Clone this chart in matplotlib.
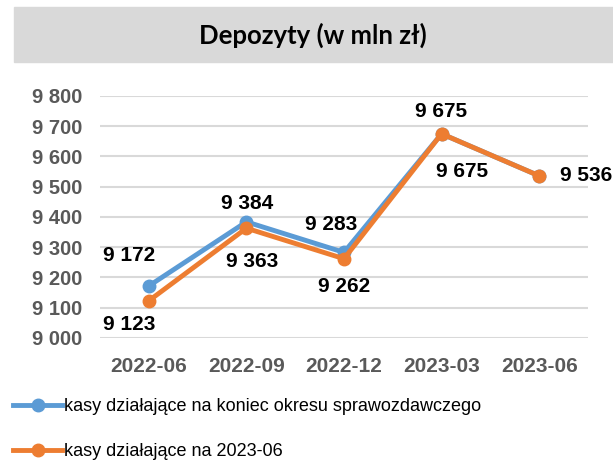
import matplotlib
matplotlib.use('Agg')
import matplotlib.pyplot as plt
from matplotlib.patches import Rectangle

# data
periods = ['2022-06', '2022-09', '2022-12', '2023-03', '2023-06']
kasy_koniec = [9172, 9384, 9283, 9675, 9536]
kasy_2023 = [9123, 9363, 9262, 9675, 9536]
y_ticks = [9000, 9100, 9200, 9300, 9400, 9500, 9600, 9700, 9800]
label_koniec = 'kasy działające na koniec okresu sprawozdawczego'
label_2023 = 'kasy działające na 2023-06'

# label offsets in pixels (dx, dy) - placed by hand like in the source
off_koniec = [(-20, 30), (1, 18), (-13, 28), (-1, 22), None]
off_2023 = [(-20, -24), (6, -33), (0, -28), (20, -38), (47, 0)]

BLUE = '#5B9BD5'
ORANGE = '#ED7D31'
GREY_TXT = '#595959'

def fmt(v):
    return f'{v:,}'.replace(',', ' ')

plt.rcParams['font.family'] = ['Liberation Sans', 'DejaVu Sans']

fig = plt.figure(figsize=(6.13, 4.68), dpi=100)
ax = fig.add_axes([100 / 613, 1 - 338 / 468, 488 / 613, 242 / 468])

# title box
fig.patches.append(Rectangle((14 / 613, 1 - 62 / 468), 599 / 613, 55 / 468,
                             transform=fig.transFigure, color='#D9D9D9', zorder=0))
fig.text(313 / 613, 1 - 35 / 468, 'Depozyty (w mln zł)', ha='center', va='center',
         fontsize=18.5, fontweight='bold', family=['Lato', 'DejaVu Sans'])

x = list(range(len(periods)))
ax.plot(x, kasy_koniec, color=BLUE, lw=3.5, marker='o', ms=9, label=label_koniec, zorder=3)
ax.plot(x, kasy_2023, color=ORANGE, lw=3.5, marker='o', ms=9, label=label_2023, zorder=4)

for xi, v, off in zip(x, kasy_koniec, off_koniec):
    if off is None:
        continue
    ax.annotate(fmt(v), (xi, v), xytext=off, textcoords='offset pixels',
                ha='center', va='center', fontsize=15, fontweight='bold', color='black')
for xi, v, off in zip(x, kasy_2023, off_2023):
    ax.annotate(fmt(v), (xi, v), xytext=off, textcoords='offset pixels',
                ha='center', va='center', fontsize=15, fontweight='bold', color='black',
                annotation_clip=False)

ax.set_xlim(-0.5, len(periods) - 0.5)
ax.set_ylim(9000, 9800)
ax.set_yticks(y_ticks)
ax.set_yticklabels([fmt(v) for v in y_ticks])
ax.set_xticks(x)
ax.set_xticklabels(periods)
ax.tick_params(axis='y', length=0, pad=13, labelsize=14.5, labelcolor=GREY_TXT)
ax.tick_params(axis='x', length=0, pad=14, labelsize=15, labelcolor=GREY_TXT)
for lbl in ax.get_xticklabels() + ax.get_yticklabels():
    lbl.set_fontweight('bold')
ax.grid(axis='y', color='#D9D9D9', lw=1.5)
ax.set_axisbelow(True)
for s in ax.spines.values():
    s.set_visible(False)

fig.legend(loc='upper left', bbox_to_anchor=(6 / 613, 1 - 391 / 468), frameon=False,
           fontsize=13, handlelength=2.7, handletextpad=0.1, labelspacing=1.55,
           borderaxespad=0)

fig.savefig('out.png', dpi=100)
